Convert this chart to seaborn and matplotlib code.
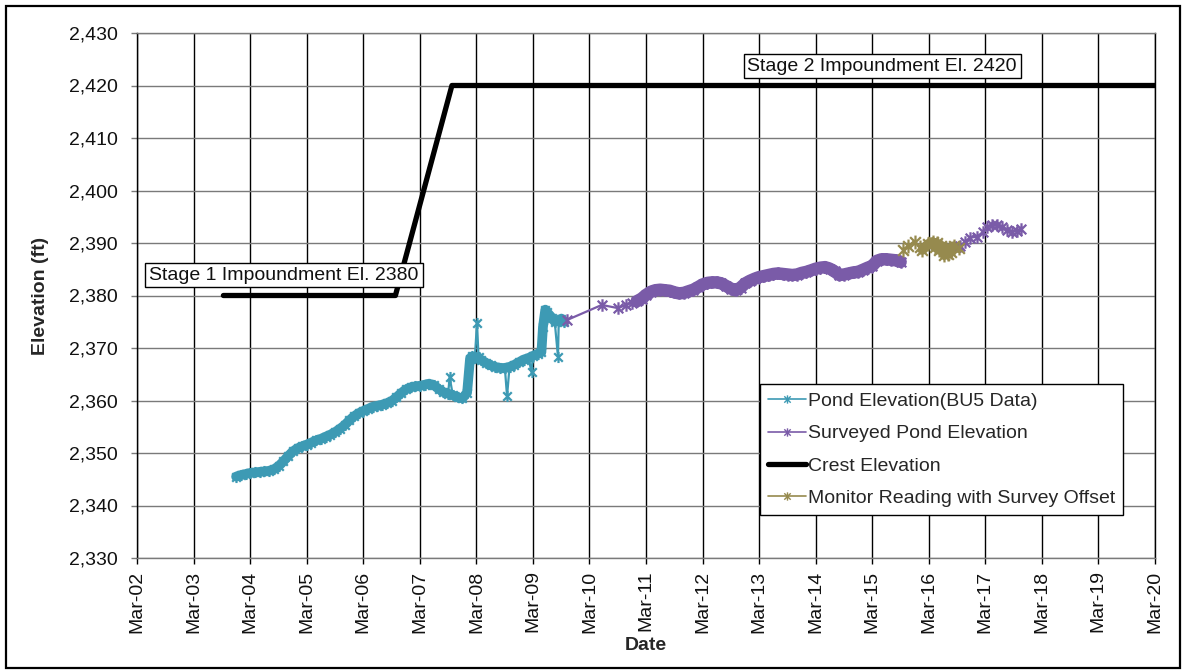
import matplotlib
matplotlib.use("Agg")
import numpy as np
import pandas as pd
import matplotlib.pyplot as plt
import matplotlib.dates as mdates
from matplotlib.path import Path
from matplotlib.lines import Line2D
from matplotlib.patches import Rectangle
from matplotlib.ticker import StrMethodFormatter, MultipleLocator
import seaborn as sns

# ---- Pond elevation from the BU5 logger (ft) ----
pond_dates = [
    "2003-12-01", "2004-01-01", "2004-02-01", "2004-03-01", "2004-04-01", "2004-05-01",
    "2004-06-01", "2004-07-01", "2004-08-01", "2004-09-01", "2004-10-01", "2004-11-01",
    "2004-12-01", "2005-01-01", "2005-02-01", "2005-03-01", "2005-04-01", "2005-05-01",
    "2005-06-01", "2005-07-01", "2005-08-01", "2005-09-01", "2005-10-01", "2005-11-01",
    "2005-12-01", "2006-01-01", "2006-02-01", "2006-03-01", "2006-04-01", "2006-05-01",
    "2006-06-01", "2006-07-01", "2006-08-01", "2006-09-01", "2006-10-01", "2006-11-01",
    "2006-12-01", "2007-01-01", "2007-02-01", "2007-03-01", "2007-04-01", "2007-05-01",
    "2007-06-01", "2007-07-01", "2007-08-01", "2007-09-01", "2007-09-10", "2007-10-01",
    "2007-11-01", "2007-12-01", "2008-01-01", "2008-01-20", "2008-02-01", "2008-02-20",
    "2008-03-05", "2008-03-15", "2008-04-01", "2008-05-01", "2008-06-01", "2008-07-01",
    "2008-08-01", "2008-09-01", "2008-09-15", "2008-10-01", "2008-11-01", "2008-12-01",
    "2009-01-01", "2009-02-01", "2009-02-20", "2009-03-01", "2009-04-01", "2009-04-25",
    "2009-05-05", "2009-05-20", "2009-06-01", "2009-07-01", "2009-07-20", "2009-08-10",
    "2009-08-15", "2009-09-01", "2009-09-20",
]
pond_elev = [
    2345.5, 2345.8, 2346.0, 2346.2, 2346.3, 2346.4,
    2346.5, 2346.6, 2346.9, 2347.5, 2348.4, 2349.4,
    2350.3, 2350.9, 2351.3, 2351.6, 2352.0, 2352.4,
    2352.7, 2353.1, 2353.5, 2354.0, 2354.6, 2355.3,
    2356.2, 2357.0, 2357.6, 2358.0, 2358.4, 2358.8,
    2359.0, 2359.2, 2359.5, 2359.9, 2360.6, 2361.4,
    2362.1, 2362.5, 2362.7, 2362.8, 2363.0, 2363.2,
    2362.9, 2362.2, 2361.6, 2361.3, 2364.5, 2361.0,
    2360.6, 2360.4, 2361.5, 2368.0, 2368.4, 2368.1,
    2374.8, 2368.2, 2367.7, 2367.2, 2366.7, 2366.4,
    2366.2, 2366.2, 2360.8, 2366.4, 2366.8, 2367.3,
    2367.8, 2368.1, 2365.4, 2368.5, 2368.9, 2369.2,
    2374.0, 2377.3, 2376.8, 2375.8, 2375.0, 2368.3,
    2375.2, 2375.6, 2375.0,
]
# isolated single readings that stand apart from the trend
pond_outlier_dates = ["2007-09-10", "2008-03-05", "2008-09-15", "2009-02-20", "2009-08-10"]

# ---- Surveyed pond elevation (ft) ----
survey_dates = [
    "2009-10-05", "2010-05-20", "2010-09-01", "2010-10-25", "2010-12-01",
    "2011-01-01", "2011-02-01", "2011-03-01", "2011-04-01", "2011-05-01", "2011-06-01",
    "2011-07-01", "2011-08-01", "2011-09-01", "2011-10-01", "2011-11-01", "2011-12-01",
    "2012-01-01", "2012-02-01", "2012-03-01", "2012-04-01", "2012-05-01", "2012-06-01",
    "2012-07-01", "2012-08-01", "2012-09-01", "2012-10-01", "2012-11-01", "2012-12-01",
    "2013-01-01", "2013-02-01", "2013-03-01", "2013-04-01", "2013-05-01", "2013-06-01",
    "2013-07-01", "2013-08-01", "2013-09-01", "2013-10-01", "2013-11-01", "2013-12-01",
    "2014-01-01", "2014-02-01", "2014-03-01", "2014-04-01", "2014-05-01", "2014-06-01",
    "2014-07-01", "2014-08-01", "2014-09-01", "2014-10-01", "2014-11-01", "2014-12-01",
    "2015-01-01", "2015-02-01", "2015-03-01", "2015-04-01", "2015-05-01", "2015-06-01",
    "2015-07-01", "2015-08-01", "2015-09-01",
    "2016-09-20", "2016-10-20", "2016-11-20", "2017-01-05", "2017-02-15", "2017-03-10",
    "2017-04-10", "2017-05-15", "2017-06-15", "2017-07-20", "2017-08-20", "2017-09-20",
    "2017-10-20",
]
survey_elev = [
    2375.3, 2378.2, 2377.6, 2378.2, 2378.6,
    2378.9, 2379.4, 2380.1, 2380.7, 2381.0, 2381.1,
    2381.0, 2380.9, 2380.6, 2380.4, 2380.5, 2380.8,
    2381.1, 2381.6, 2382.1, 2382.4, 2382.5, 2382.5,
    2382.3, 2381.8, 2381.3, 2381.0, 2381.5, 2382.3,
    2382.8, 2383.2, 2383.5, 2383.7, 2383.9, 2384.1,
    2384.2, 2384.1, 2384.0, 2383.9, 2384.0, 2384.3,
    2384.5, 2384.8, 2385.1, 2385.3, 2385.4, 2385.1,
    2384.6, 2383.9, 2384.0, 2384.2, 2384.4, 2384.5,
    2384.9, 2385.3, 2385.6, 2386.6, 2386.9, 2386.9,
    2386.8, 2386.7, 2386.4,
    2389.5, 2390.2, 2391.0, 2391.2, 2392.1, 2393.0,
    2393.4, 2393.4, 2393.0, 2392.5, 2392.1, 2392.3,
    2392.6,
]
survey_dense_span = ("2011-01-01", "2015-09-01")
# surveys resumed after the monitor took over; no line across the gap
survey_resumed = "2016-09-01"

# ---- Monitor reading with survey offset (ft) ----
monitor_dates = [
    "2015-09-15", "2015-10-20", "2015-12-01", "2016-01-05", "2016-01-20", "2016-02-25",
    "2016-03-25", "2016-04-10", "2016-04-20", "2016-05-05", "2016-05-20", "2016-06-10",
    "2016-06-20", "2016-07-05", "2016-07-15", "2016-07-25", "2016-08-10", "2016-09-10",
]
monitor_elev = [
    2388.7, 2389.5, 2390.2, 2389.3, 2388.7, 2389.8,
    2390.2, 2389.2, 2390.0, 2388.7, 2389.5, 2387.7,
    2388.8, 2387.9, 2389.0, 2388.3, 2389.4, 2389.0,
]
monitor_dense_span = ("2016-01-20", "2016-09-10")

# ---- Dam crest elevation (ft) ----
crest_dates = ["2003-09-10", "2006-09-25", "2007-09-25", "2020-03-01"]
crest_elev = [2380, 2380, 2420, 2420]

series_labels = [
    "Pond Elevation(BU5 Data)",
    "Surveyed Pond Elevation",
    "Crest Elevation",
    "Monitor Reading with Survey Offset",
]
stage_labels = ["Stage 1 Impoundment El. 2380", "Stage 2 Impoundment El. 2420"]
y_range = (2330, 2430)
x_range = ("2002-03-01", "2020-03-01")

TEAL = "#3d9ab4"
PURPLE = "#7a5ba8"
OLIVE = "#968a4e"
FS = 14

# Excel-style star marker: an "x" with a vertical stroke
STAR = Path(
    [(-1, -1), (1, 1), (-1, 1), (1, -1), (0, -1.3), (0, 1.3)],
    [Path.MOVETO, Path.LINETO] * 3,
)

sns.set_style("white")
plt.rcParams["font.family"] = ["Liberation Sans", "DejaVu Sans"]

fig = plt.figure(figsize=(11.83, 6.71), dpi=100)
ax = fig.add_axes([137 / 1183, 1 - 558 / 671, 1018 / 1183, 525 / 671])


def frame(dates, elev):
    df = pd.DataFrame({"date": pd.to_datetime(dates), "elev": elev})
    df["run"] = 0
    return df


def draw_series(df, band, color, band_lw, ms):
    # solid body for the densely sampled stretch, then every reading with markers
    if band is not None:
        sns.lineplot(data=df[band], x="date", y="elev", ax=ax, color=color,
                     lw=band_lw, legend=False, estimator=None,
                     solid_joinstyle="round", solid_capstyle="round", zorder=2)
    sns.lineplot(data=df, x="date", y="elev", units="run", ax=ax, color=color,
                 lw=1.6, marker=STAR, ms=ms, mec=color, mew=1.6, mfc="none",
                 legend=False, estimator=None, zorder=3)


pond = frame(pond_dates, pond_elev)
pond_band = ~pond["date"].isin(pd.to_datetime(pond_outlier_dates))
draw_series(pond, pond_band, TEAL, 7, 8)

survey = frame(survey_dates, survey_elev)
survey["run"] = (survey["date"] >= pd.to_datetime(survey_resumed)).astype(int)
survey_band = survey["date"].between(*pd.to_datetime(list(survey_dense_span)))
draw_series(survey, survey_band, PURPLE, 9, 9)

crest = frame(crest_dates, crest_elev)
sns.lineplot(data=crest, x="date", y="elev", ax=ax, color="black", lw=3.8,
             legend=False, estimator=None, solid_joinstyle="round", zorder=4)

monitor = frame(monitor_dates, monitor_elev)
monitor_band = monitor["date"].between(*pd.to_datetime(list(monitor_dense_span)))
draw_series(monitor, monitor_band, OLIVE, 7, 10)

# axes, ticks and grid
ax.set_xlim(pd.to_datetime(x_range[0]), pd.to_datetime(x_range[1]))
ax.set_ylim(*y_range)
ax.yaxis.set_major_locator(MultipleLocator(10))
ax.yaxis.set_major_formatter(StrMethodFormatter("{x:,.0f}"))
ax.xaxis.set_major_locator(mdates.YearLocator(base=1, month=3, day=1))
ax.xaxis.set_major_formatter(mdates.DateFormatter("%b-%y"))

ax.set_axisbelow(True)
ax.grid(axis="y", color="#7a7a7a", lw=1.0)
ax.grid(axis="x", color="black", lw=1.0)
for side in ("top", "bottom"):
    ax.spines[side].set_color("#7a7a7a")
    ax.spines[side].set_linewidth(1.0)
for side in ("left", "right"):
    ax.spines[side].set_color("black")
    ax.spines[side].set_linewidth(1.0)

ax.tick_params(axis="y", direction="out", length=4, width=1, color="#7a7a7a",
               pad=10, labelsize=FS, labelcolor="#111111", left=True)
ax.tick_params(axis="x", direction="out", length=4, width=1, color="black",
               pad=5, labelsize=FS, labelcolor="#111111", labelrotation=90, bottom=True)

ax.set_xlabel("Date", fontsize=FS, fontweight="bold", labelpad=3)
ax.set_ylabel("Elevation (ft)", fontsize=FS, fontweight="bold", labelpad=14)

# stage annotations
box = dict(boxstyle="square,pad=0.2", facecolor="white", edgecolor="black", lw=1)
ax.text(0.1444, 0.539, stage_labels[0], transform=ax.transAxes, ha="center",
        va="center", fontsize=FS, color="#111111", bbox=box, zorder=6)
ax.text(0.732, 0.937, stage_labels[1], transform=ax.transAxes, ha="center",
        va="center", fontsize=FS, color="#111111", bbox=box, zorder=6)

# legend
handles = [
    Line2D([], [], color=TEAL, lw=1.2, marker=STAR, ms=6, mec=TEAL, mew=1),
    Line2D([], [], color=PURPLE, lw=1.2, marker=STAR, ms=6, mec=PURPLE, mew=1),
    Line2D([], [], color="black", lw=3.8),
    Line2D([], [], color=OLIVE, lw=1.2, marker=STAR, ms=6, mec=OLIVE, mew=1),
]
leg = ax.legend(handles, series_labels, loc="upper left",
                bbox_to_anchor=(0.612, 0.331), frameon=True, fancybox=False,
                edgecolor="black", framealpha=1, fontsize=FS, handlelength=1.95,
                handletextpad=0.1, labelspacing=0.76, borderpad=0.42,
                borderaxespad=0)
leg.get_frame().set_linewidth(1)
leg.set_zorder(7)

# outer border around the whole chart
fig.patches.append(Rectangle((6 / 1183, 3 / 671), 1174 / 1183, 662 / 671,
                             transform=fig.transFigure, fill=False,
                             edgecolor="black", lw=1.6))

fig.savefig("out.png", dpi=100, facecolor="white")
